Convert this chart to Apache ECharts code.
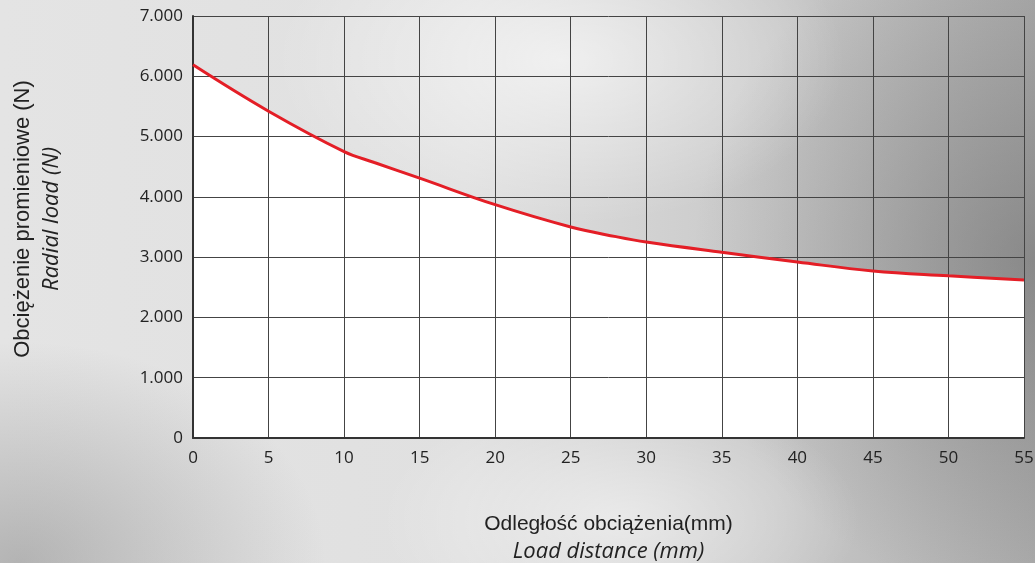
<!DOCTYPE html>
<html>
<head>
<meta charset="utf-8">
<script src="https://cdn.jsdelivr.net/npm/echarts@6/dist/echarts.min.js"></script>
<style>
  html, body { margin: 0; padding: 0; }
  body {
    width: 1035px; height: 563px; overflow: hidden;
    background:
      radial-gradient(ellipse 380px 220px at 560px 60px, rgba(255,255,255,0.6), rgba(255,255,255,0) 75%),
      radial-gradient(ellipse 320px 170px at 620px 520px, rgba(255,255,255,0.5), rgba(255,255,255,0) 75%),
      radial-gradient(ellipse 360px 260px at 20px 563px, rgba(100,100,100,0.38), rgba(100,100,100,0) 85%),
      radial-gradient(ellipse 380px 380px at 1035px 260px, rgba(80,80,80,0.38), rgba(80,80,80,0) 90%),
      linear-gradient(90deg, #e4e4e4 0%, #e0e0e0 45%, #c8c8c8 75%, #acacac 100%);
  }
  #main { width: 1035px; height: 563px; }
</style>
</head>
<body>
<div id="main"></div>
<script>
  // odległość obciążenia (mm)
  const distance = [0, 5, 10, 12, 15, 20, 25, 28, 30, 35, 40, 45, 50, 55]
  // obciążenie promieniowe (N)
  const radialLoad = [6190, 5420, 4750, 4570, 4310, 3870, 3500, 3340, 3250, 3080, 2920, 2770, 2690, 2620]
  const xTicks = [0, 5, 10, 15, 20, 25, 30, 35, 40, 45, 50, 55]
  const yTicks = ['0', '1.000', '2.000', '3.000', '4.000', '5.000', '6.000', '7.000']

  var myChart = echarts.init(document.getElementById('main'))
  const data = distance.map((d, i) => [d, radialLoad[i]])

  var option = {
    backgroundColor: 'transparent',
    animation: false,
    grid: {
      left: 193,
      right: 11,
      top: 16,
      bottom: 125,
      containLabel: false,
      outerBoundsMode: 'none',
    },
    xAxis: {
      type: 'value',
      min: 0,
      max: 55,
      interval: 5,
      z: 2,
      name: '{a|Odległość obciążenia(mm)}\n{b|Load distance (mm)}',
      nameLocation: 'middle',
      nameGap: 73,
      nameTextStyle: {
        rich: {
          a: { fontFamily: 'Liberation Sans', fontSize: 21, color: '#222', lineHeight: 27 },
          b: { fontFamily: 'Open Sans', fontStyle: 'italic', fontSize: 22, color: '#222', lineHeight: 27 },
        },
      },
      axisLine: { show: true, lineStyle: { color: '#333', width: 2 } },
      axisTick: { show: false },
      axisLabel: {
        color: '#222',
        fontFamily: 'Open Sans',
        fontSize: 17,
        margin: 12,
        formatter: (v) => (xTicks.indexOf(v) >= 0 ? String(v) : ''),
      },
      splitLine: { show: true, lineStyle: { color: '#444', width: 1 } },
    },
    yAxis: {
      type: 'value',
      min: 0,
      max: 7000,
      interval: 1000,
      z: 2,
      name: '{a|Obciężenie promieniowe (N)}\n{b|Radial load (N)}',
      nameLocation: 'middle',
      nameRotate: 90,
      nameGap: 127,
      nameTextStyle: {
        padding: [0, 0, 0, 16],
        rich: {
          a: { fontFamily: 'Liberation Sans', fontSize: 22, color: '#222', lineHeight: 29 },
          b: { fontFamily: 'Open Sans', fontStyle: 'italic', fontSize: 22, color: '#222', lineHeight: 29 },
        },
      },
      axisLine: { show: true, lineStyle: { color: '#333', width: 2 } },
      axisTick: { show: false },
      axisLabel: {
        color: '#222',
        fontFamily: 'Open Sans',
        fontSize: 17,
        margin: 10,
        padding: [7, 0, 0, 0],
        formatter: (v) => yTicks[Math.round(v / 1000)],
      },
      splitLine: { show: true, lineStyle: { color: '#444', width: 1 } },
    },
    series: [
      {
        // biały obszar pod krzywą
        type: 'line',
        data: data,
        smooth: 0.4,
        symbol: 'none',
        lineStyle: { width: 0, opacity: 0 },
        areaStyle: { color: '#ffffff', opacity: 1, origin: 'start' },
        z: 1,
      },
      {
        type: 'line',
        data: data,
        smooth: 0.4,
        symbol: 'none',
        lineStyle: { color: '#e41e26', width: 3 },
        z: 3,
      },
    ],
  }

  option && myChart.setOption(option)
</script>
</body>
</html>
